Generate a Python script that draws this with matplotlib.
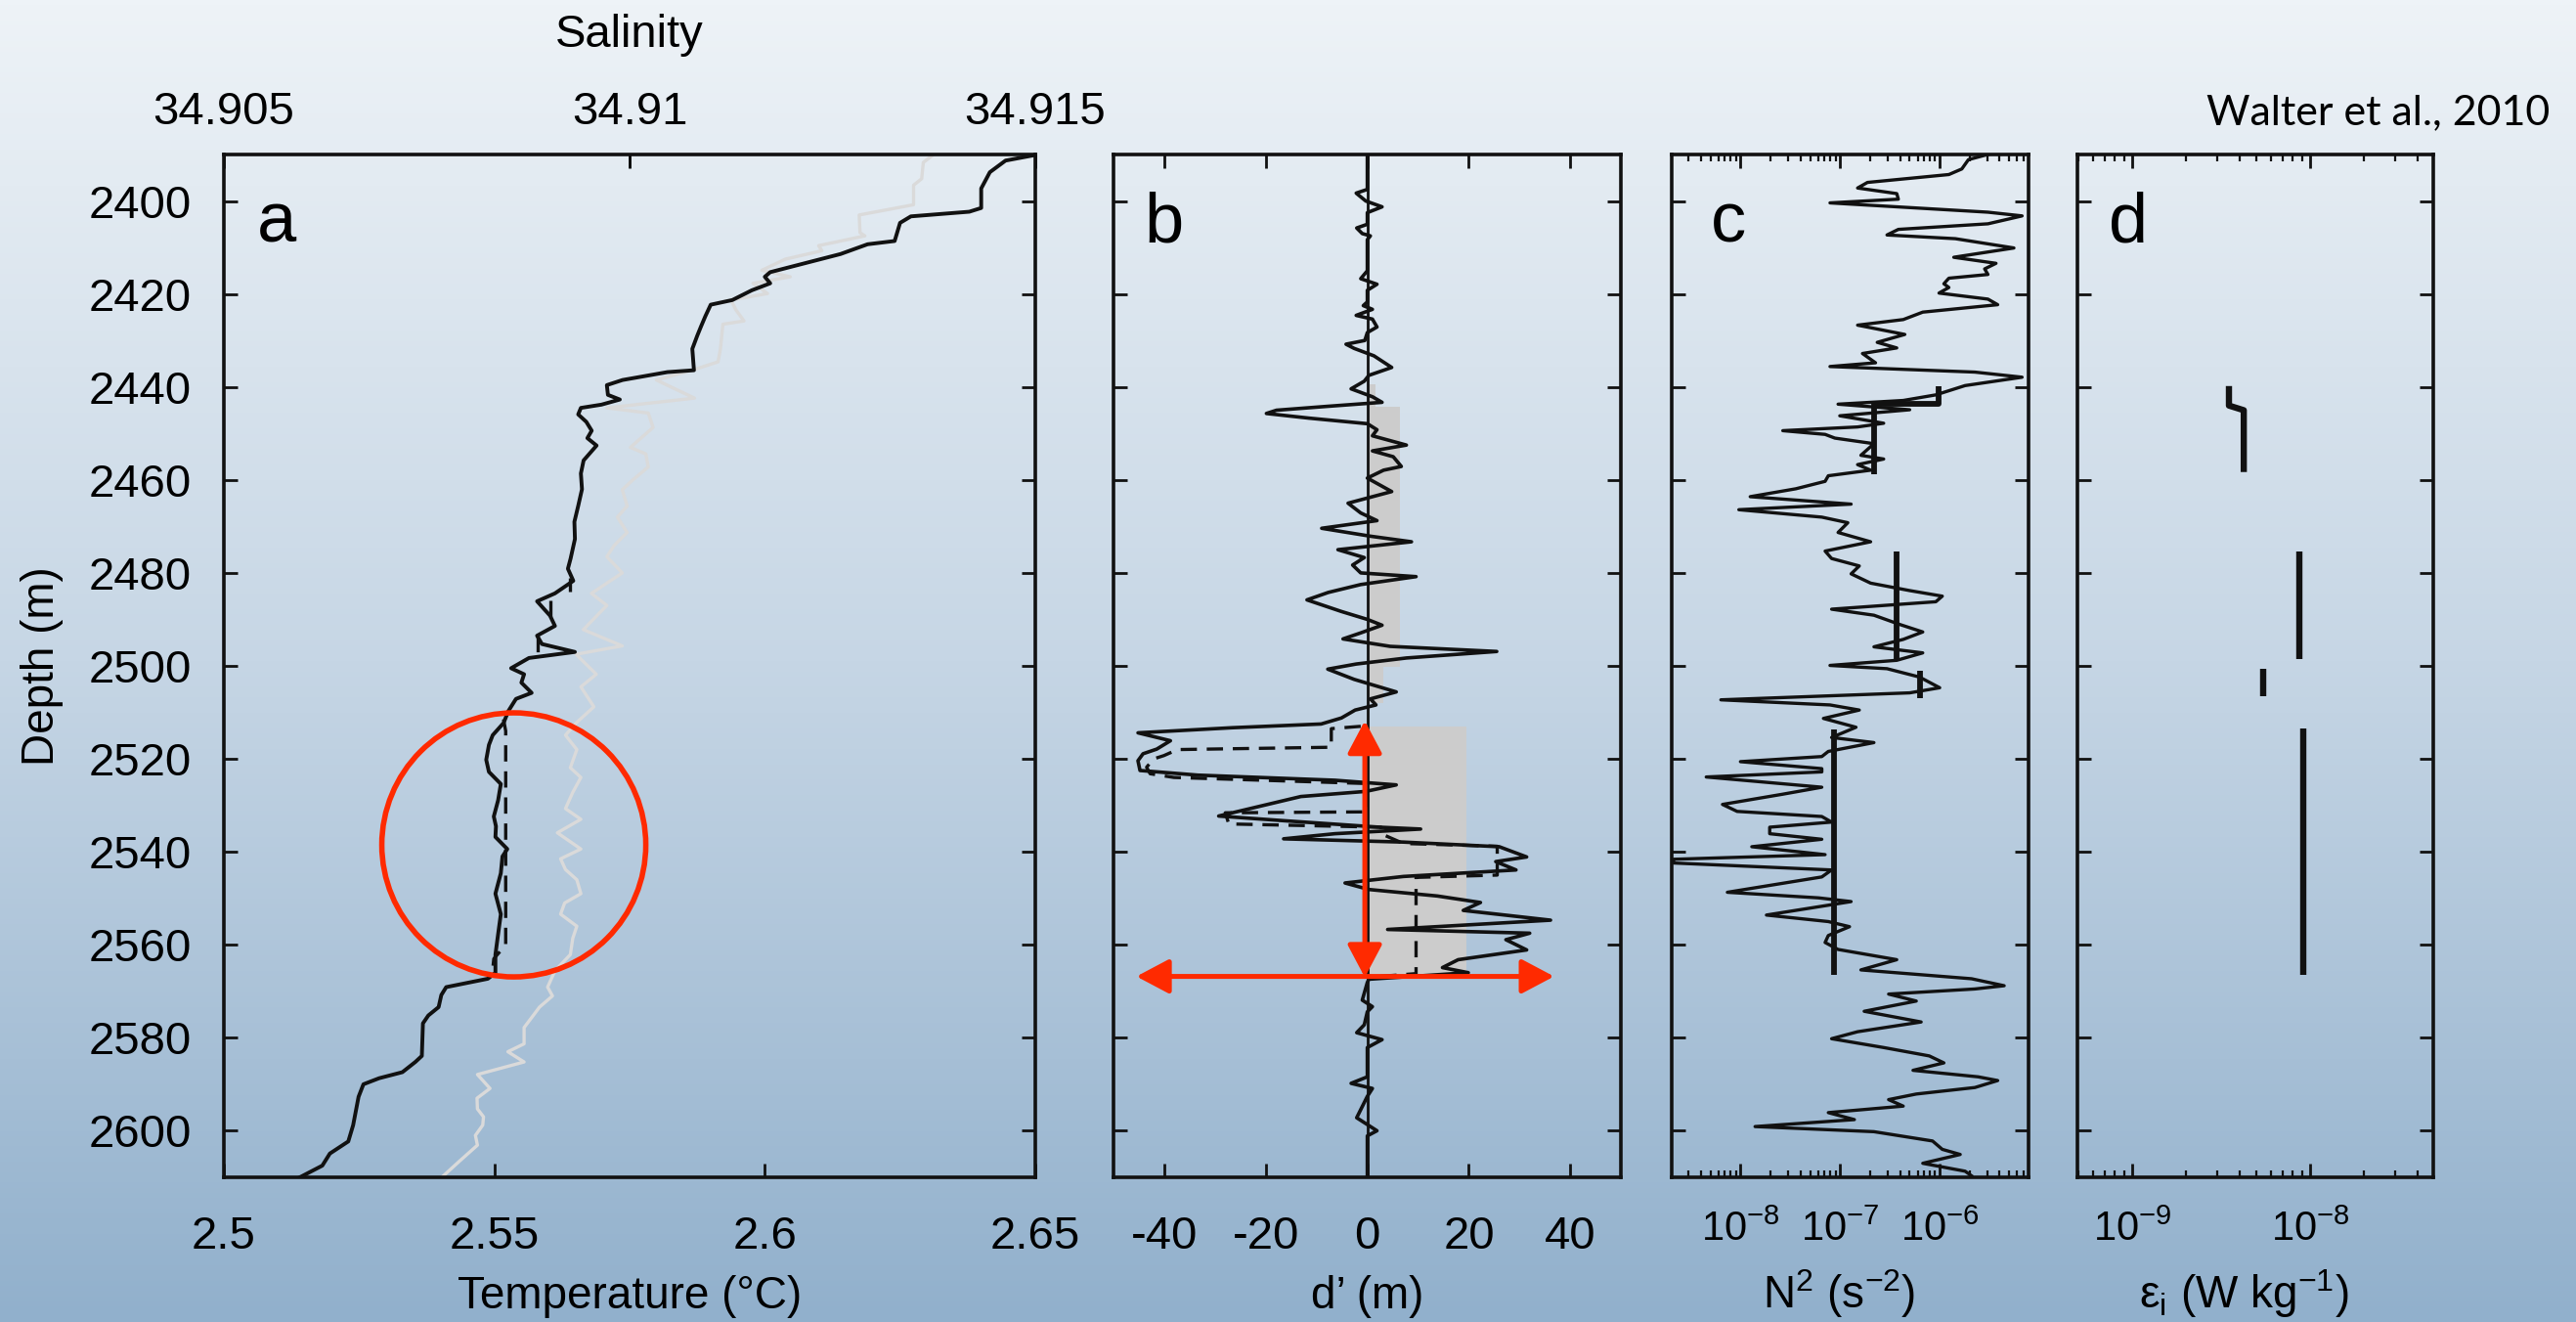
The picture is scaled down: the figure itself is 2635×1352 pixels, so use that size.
import numpy as np
import matplotlib
matplotlib.use("Agg")
import matplotlib.pyplot as plt
from matplotlib.colors import LinearSegmentedColormap
from matplotlib.patches import Ellipse
from matplotlib.ticker import NullFormatter, FixedLocator

plt.rcParams['font.family'] = ['Liberation Sans', 'DejaVu Sans']
plt.rcParams['mathtext.fontset'] = 'custom'
plt.rcParams['mathtext.rm'] = 'Liberation Sans'
plt.rcParams['mathtext.it'] = 'Liberation Sans:italic'
plt.rcParams['mathtext.default'] = 'regular'
plt.rcParams['axes.unicode_minus'] = False

# ---------------- data ----------------
depth_ticks = [2400, 2420, 2440, 2460, 2480, 2500, 2520, 2540, 2560, 2580, 2600]
temp_ticks = [2.5, 2.55, 2.6, 2.65]
sal_ticks = [34.905, 34.91, 34.915]
dprime_ticks = [-40, -20, 0, 20, 40]
n2_ticks = [1e-8, 1e-7, 1e-6]
n2_ticklabels = ['$10^{-8}$', '$10^{-7}$', '$10^{-6}$']
eps_ticks = [1e-9, 1e-8]
eps_ticklabels = ['$10^{-9}$', '$10^{-8}$']

# (depth m, temperature degC)
temp_profile = np.array([
    [2390.1, 2.650], [2391.3, 2.6445], [2393.8, 2.6416], [2397.3, 2.640], [2401.5, 2.640],
    [2402.3, 2.6378], [2403.3, 2.627], [2404.7, 2.625], [2408.6, 2.624], [2409.3, 2.619],
    [2411.4, 2.614], [2413.5, 2.607], [2415.3, 2.601], [2416.3, 2.600], [2417.7, 2.601],
    [2419.2, 2.5976], [2421.3, 2.594], [2422.3, 2.590], [2424.8, 2.589], [2427.0, 2.5882],
    [2429.0, 2.5875], [2431.8, 2.5866], [2436.4, 2.5869], [2436.8, 2.582], [2438.5, 2.5737],
    [2439.6, 2.5708], [2441.7, 2.571], [2442.7, 2.5732], [2443.8, 2.5698], [2444.5, 2.566],
    [2445.9, 2.5655], [2447.5, 2.567], [2449.4, 2.568], [2451.0, 2.5672], [2452.6, 2.5689],
    [2455.8, 2.5665], [2458.6, 2.566], [2462.0, 2.5662], [2465.6, 2.5655], [2469.0, 2.5648],
    [2472.7, 2.5649], [2476.9, 2.5641], [2479.1, 2.5636], [2481.7, 2.5646], [2484.4, 2.5612],
    [2486.1, 2.5579], [2489.2, 2.5603], [2491.4, 2.5612], [2493.5, 2.5579], [2495.3, 2.5588],
    [2497.0, 2.5649], [2498.3, 2.5564], [2500.5, 2.5531], [2501.8, 2.5555], [2503.6, 2.555],
    [2505.8, 2.5569], [2507.1, 2.554], [2509.7, 2.5526], [2512.3, 2.5517], [2514.9, 2.5497],
    [2517.0, 2.5490], [2520.2, 2.5485], [2522.8, 2.5490], [2525.4, 2.5512], [2528.9, 2.5507],
    [2532.4, 2.5499], [2534.5, 2.5503], [2536.8, 2.5502], [2539.4, 2.5524], [2541.0, 2.5515],
    [2544.6, 2.5512], [2549.0, 2.5502], [2553.4, 2.5512], [2557.7, 2.5507], [2562.1, 2.5502],
    [2566.0, 2.5502], [2567.3, 2.5488], [2569.1, 2.5411], [2570.8, 2.5402], [2573.4, 2.5397],
    [2575.2, 2.5378], [2576.9, 2.5368], [2583.9, 2.5366], [2585.2, 2.5354], [2587.4, 2.533],
    [2588.7, 2.5287], [2590.0, 2.5258], [2592.7, 2.5249], [2598.8, 2.5239], [2602.3, 2.523],
    [2604.9, 2.5196], [2607.5, 2.5182], [2610.1, 2.5139],
])

# sorted (dashed) temperature inside the overturns
temp_sorted = [
    np.array([[2481.0, 2.5640], [2484.0, 2.5640]]),
    np.array([[2486.0, 2.5604], [2490.0, 2.5604]]),
    np.array([[2493.5, 2.5580], [2498.0, 2.5580]]),
    np.array([[2511.5, 2.5517], [2514.0, 2.5521], [2560.0, 2.5521], [2563.0, 2.5499], [2566.5, 2.5496]]),
]

# (depth m, salinity)
sal_profile = np.array([
    [2390.1, 34.91374], [2391.7, 34.91362], [2395.2, 34.9136], [2396.6, 34.9135], [2400.8, 34.9135],
    [2403.0, 34.91283], [2406.8, 34.91284], [2407.5, 34.9129], [2409.6, 34.91233], [2410.7, 34.91237],
    [2412.5, 34.91192], [2414.9, 34.91163], [2416.3, 34.91198], [2417.7, 34.91152], [2419.9, 34.9117],
    [2421.3, 34.91125], [2423.4, 34.91131], [2425.8, 34.91141], [2426.5, 34.91115], [2431.8, 34.91112],
    [2434.6, 34.91109], [2436.4, 34.91077], [2438.5, 34.91033], [2442.4, 34.9108], [2444.5, 34.90972],
    [2445.6, 34.91023], [2448.7, 34.91029], [2453.0, 34.91001], [2454.4, 34.9102], [2457.2, 34.91023],
    [2460.0, 34.91004], [2462.1, 34.90991], [2465.6, 34.90997], [2468.0, 34.90985], [2471.3, 34.90997],
    [2474.1, 34.90981], [2476.5, 34.90972], [2480.0, 34.90991], [2484.4, 34.90953], [2487.0, 34.90972],
    [2492.2, 34.90943], [2495.7, 34.90991], [2497.5, 34.90934], [2501.8, 34.90959], [2504.5, 34.9094],
    [2508.8, 34.90956], [2512.3, 34.90934], [2514.9, 34.90921], [2518.0, 34.90935], [2521.9, 34.90927],
    [2524.0, 34.9094], [2527.2, 34.9093], [2530.7, 34.90921], [2533.0, 34.9094], [2535.9, 34.90911],
    [2539.4, 34.9094], [2541.5, 34.90915], [2543.8, 34.90921], [2546.0, 34.90935], [2549.0, 34.9094],
    [2551.0, 34.9092], [2553.4, 34.90915], [2556.0, 34.90935], [2558.6, 34.9093], [2562.1, 34.90927],
    [2565.6, 34.90908], [2569.1, 34.90899], [2571.0, 34.90905], [2573.4, 34.90889], [2575.5, 34.9088],
    [2577.8, 34.9087], [2581.3, 34.9087], [2583.0, 34.9085], [2585.2, 34.9087], [2587.9, 34.908125],
    [2590.9, 34.90828], [2593.0, 34.90812], [2595.3, 34.908125], [2597.0, 34.9082], [2598.8, 34.90819],
    [2601.0, 34.9081], [2603.1, 34.908125], [2606.6, 34.9079], [2610.1, 34.90768],
])

# (depth m, Thorpe displacement d' m)
thorpe = np.array([
    [2390.0, 0], [2397.5, 0], [2398.3, -2.2], [2400.0, -0.3], [2401.25, 2.9], [2402.5, 0],
    [2405.0, 0], [2405.8, -2.1], [2407.0, -1.0], [2407.5, 0.6], [2408.3, 0], [2415.0, 0],
    [2416.7, -1.3], [2417.9, 1.9], [2419.2, 0], [2421.7, 0], [2422.5, -0.8], [2423.3, 1.0],
    [2424.6, -2.2], [2425.4, 1.0], [2427.1, 1.9], [2428.3, 0], [2430.0, -0.5], [2430.8, -4.2],
    [2431.7, -2.6], [2433.3, 1.3], [2435.8, 4.8], [2437.5, 0.3], [2438.75, -0.6], [2440.4, -3.2],
    [2442.1, 1.0], [2443.3, 2.9], [2444.2, -8.3], [2445.0, -17.9], [2445.7, -19.9], [2446.7, -11.5],
    [2447.9, 0], [2449.2, 1.9], [2450.5, 1.0], [2452.5, 7.7], [2453.75, 1.0], [2455.0, 5.1],
    [2457.1, 6.7], [2457.9, 3.2], [2459.6, 0], [2462.5, 4.8], [2465.0, -3.8], [2467.1, -1.3],
    [2468.75, 1.9], [2470.4, -9.0], [2472.1, 0.6], [2473.3, 8.7], [2475.0, -5.8], [2476.7, -0.6],
    [2478.3, -2.9], [2480.0, -1.3], [2480.8, 9.6], [2482.5, -1.3], [2484.2, -7.7], [2485.8, -11.9],
    [2488.3, -5.1], [2490.0, 0], [2491.25, 2.9], [2492.9, -1.3], [2494.2, -4.8], [2495.8, 4.5],
    [2496.9, 25.5], [2498.3, 7.7], [2499.6, -2.2], [2500.7, -7.8], [2502.9, -2.6], [2504.6, 2.6],
    [2505.6, 5.7], [2507.1, 0.6], [2508.4, 1.7], [2509.5, -2.4], [2511.2, -5.1], [2512.5, -9.1],
    [2513.3, -26.6], [2514.4, -45.2], [2516.1, -38.8], [2517.9, -41.5], [2518.9, -44.2], [2520.4, -45.2],
    [2522.5, -44.8], [2523.5, -33.4], [2524.6, -6.4], [2525.6, 5.7], [2527.0, -0.3], [2528.1, -13.1],
    [2529.5, -18.5], [2532.3, -29.3], [2533.3, -16.5], [2534.7, 2.4], [2535.1, 10.5], [2536.1, -6.4],
    [2537.2, -16.5], [2537.9, 7.1], [2538.9, 26.0], [2541.1, 31.4], [2542.1, 25.3], [2543.9, 29.3],
    [2545.3, 7.1], [2546.7, -4.4], [2548.1, 0.3], [2549.5, 13.8], [2550.9, 22.3], [2552.6, 18.9],
    [2554.7, 36.1], [2556.7, 4.0], [2557.5, 32.0], [2558.9, 27.3], [2561.1, 31.4], [2563.2, 17.9],
    [2564.9, 14.8], [2566.0, 19.9], [2567.4, 0.3], [2568.1, 0], [2571.9, -1.0], [2573.3, 1.0],
    [2574.4, 0], [2577.2, -0.6], [2578.9, -2.1], [2580.4, 2.9], [2582.1, 0], [2588.4, 0],
    [2589.8, -3.2], [2590.9, 1.0], [2592.6, 0], [2597.2, -2.1], [2600.0, 1.9], [2601.1, 0],
    [2610.0, 0],
])

# dashed displacement inside the big overturn
thorpe_dashed = np.array([
    [2513.0, -1.3], [2513.5, -7.1], [2517.5, -7.1], [2518.0, -37.4], [2519.3, -40.1],
    [2520.0, -42.1], [2521.8, -43.5], [2523.2, -42.8], [2524.0, -38.1], [2525.3, -0.3],
    [2531.4, 0], [2531.6, -28.0], [2534.0, -27.3], [2534.7, 2.7], [2536.1, 2.7],
    [2538.2, 7.1], [2538.8, 25.6], [2541.4, 25.6], [2545.0, 25.6], [2545.5, 9.6],
    [2566.2, 9.6], [2567.0, 0],
])

# grey overturn patches: top, bottom, width of Thorpe scale
shade_top = [2439.5, 2444.2, 2500.3, 2513.0]
shade_bottom = [2444.2, 2500.3, 2508.0, 2566.3]
shade_width = [1.6, 6.5, 3.2, 19.5]

# (depth m, log10 N^2)
n2_profile = np.array([
    [2389.6, -5.451], [2391.1, -5.712], [2393.1, -5.778], [2394.3, -5.908], [2396.0, -6.725],
    [2397.2, -6.824], [2398.4, -6.431], [2399.6, -6.415], [2400.4, -7.101], [2402.4, -5.516],
    [2403.2, -5.173], [2404.9, -5.516], [2406.1, -6.415], [2407.3, -6.529], [2408.1, -5.843],
    [2410.1, -5.255], [2412.1, -5.859], [2413.4, -5.435], [2414.6, -5.549], [2415.8, -5.516],
    [2416.6, -5.908], [2417.8, -5.958], [2418.6, -5.908], [2419.8, -6.007], [2421.1, -5.516],
    [2422.3, -5.418], [2423.9, -6.170], [2425.5, -6.366], [2426.7, -6.824], [2428.7, -6.350],
    [2430.4, -6.627], [2431.6, -6.431], [2432.8, -6.775], [2434.8, -6.644], [2435.6, -7.101],
    [2436.8, -5.647], [2437.9, -5.173], [2439.7, -5.745], [2441.7, -6.039], [2442.9, -6.366],
    [2443.7, -7.020], [2444.9, -6.301], [2446.2, -7.003], [2447.8, -6.562], [2448.6, -6.824],
    [2449.4, -7.575], [2450.2, -7.150], [2451.0, -7.052], [2452.2, -6.660], [2454.7, -6.791],
    [2455.5, -6.562], [2456.7, -6.824], [2457.9, -6.693], [2459.1, -7.118], [2460.3, -7.150],
    [2461.9, -7.444], [2463.6, -7.902], [2464.8, -7.150], [2465.2, -6.889], [2466.4, -8.016],
    [2468.0, -7.183], [2469.2, -6.922], [2471.3, -7.020], [2473.3, -6.693], [2475.3, -7.150],
    [2476.9, -7.085], [2478.5, -6.807], [2480.2, -6.889], [2482.2, -6.693], [2483.8, -6.301],
    [2485.0, -5.974], [2486.2, -6.039], [2487.8, -7.085], [2489.1, -6.660], [2491.1, -6.399],
    [2492.7, -6.170], [2494.3, -6.366], [2495.9, -6.660], [2497.2, -6.170], [2498.8, -6.431],
    [2499.9, -7.101], [2500.6, -6.529], [2502.4, -6.203], [2504.7, -6.000], [2505.8, -6.301],
    [2507.3, -8.196], [2508.4, -7.101], [2509.5, -6.807], [2511.3, -7.167], [2513.2, -6.840],
    [2515.4, -7.085], [2516.5, -6.660], [2518.4, -7.118], [2519.5, -7.183], [2520.6, -8.000],
    [2522.1, -7.183], [2522.8, -7.183], [2523.9, -8.343], [2526.1, -7.183], [2527.6, -7.575],
    [2529.8, -8.180], [2531.3, -8.033], [2532.4, -7.183], [2533.6, -7.085], [2534.7, -7.706],
    [2536.1, -7.706], [2537.3, -7.183], [2538.9, -7.886], [2540.6, -7.150], [2541.6, -8.670],
    [2542.4, -8.670], [2543.9, -7.085], [2545.4, -7.183], [2548.7, -8.131], [2549.9, -7.216],
    [2550.7, -6.889], [2553.6, -7.739], [2555.0, -7.118], [2556.1, -6.905], [2558.0, -7.118],
    [2559.5, -7.150], [2561.0, -7.020], [2563.2, -6.431], [2565.4, -6.791], [2567.3, -5.680],
    [2568.8, -5.353], [2569.5, -5.647], [2570.6, -6.513], [2572.1, -6.235], [2574.3, -6.758],
    [2576.6, -6.186], [2578.7, -6.824], [2580.2, -7.085], [2582.1, -6.562], [2583.9, -6.105],
    [2585.4, -5.958], [2587.0, -6.268], [2588.4, -5.614], [2589.2, -5.418], [2590.7, -5.647],
    [2592.1, -6.235], [2593.3, -6.513], [2594.7, -6.366], [2596.1, -7.118], [2597.6, -6.856],
    [2599.1, -7.853], [2600.2, -6.660], [2602.2, -6.072], [2604.0, -5.974], [2605.1, -5.794],
    [2607.0, -6.170], [2608.7, -5.745], [2609.7, -5.680],
])

# overturn-averaged N^2 (thick steps): list of (N2 values, depths)
n2_bins = [
    ([9.7e-7, 9.7e-7, 2.19e-7, 2.19e-7], [2439.9, 2443.7, 2443.7, 2458.7]),
    ([3.71e-7, 3.71e-7], [2475.3, 2498.8]),
    ([6.41e-7, 6.41e-7], [2501.0, 2507.0]),
    ([8.73e-8, 8.73e-8], [2513.6, 2566.5]),
]

# dissipation rate epsilon_i per overturn
eps_bins = [
    ([3.5e-9, 3.5e-9, 4.24e-9, 4.24e-9], [2439.8, 2444.0, 2445.0, 2458.3]),
    ([8.73e-9, 8.73e-9], [2475.3, 2498.6]),
    ([5.46e-9, 5.46e-9], [2500.7, 2506.6]),
    ([9.12e-9, 9.12e-9], [2513.5, 2566.5]),
]

RED = '#ff2a00'
INK = '#111111'
TICK = 34
LOGTICK = 30

fig = plt.figure(figsize=(26.35, 13.52), dpi=100)

# background gradient
bg = fig.add_axes([0, 0, 1, 1], zorder=-10)
cmap = LinearSegmentedColormap.from_list('bg', ['#eef3f7', '#c6d6e5', '#91b0cc'])
bg.imshow(np.linspace(0, 1, 256)[:, None], aspect='auto', cmap=cmap,
          extent=[0, 1, 0, 1], origin='upper')
bg.axis('off')

bottom, height = 0.1095, 0.7736
ax_a = fig.add_axes([0.0869, bottom, 0.3150, height])
ax_b = fig.add_axes([0.4323, bottom, 0.1970, height])
ax_c = fig.add_axes([0.6490, bottom, 0.1385, height])
ax_d = fig.add_axes([0.8065, bottom, 0.1381, height])


def style(ax, xpad=28, xsize=TICK):
    ax.set_facecolor('none')
    ax.set_ylim(2610, 2390)
    ax.set_yticks(depth_ticks)
    for s in ax.spines.values():
        s.set_linewidth(2.6)
        s.set_color(INK)
    ax.tick_params(which='both', direction='in', width=2, labelsize=TICK,
                   top=True, right=True, left=True, bottom=True, color=INK)
    ax.tick_params(which='major', length=10)
    ax.tick_params(which='minor', length=5, width=1.6)
    ax.tick_params(axis='x', pad=xpad, labelsize=xsize)
    ax.tick_params(axis='y', pad=24)


def log_ticks(ax, ticks, labels, lo, hi):
    ax.set_xscale('log')
    ax.set_xlim(lo, hi)
    ax.set_xticks(ticks, labels)
    minors = [m * 10.0 ** e for e in range(-11, -4) for m in range(2, 10)]
    ax.xaxis.set_minor_locator(FixedLocator([v for v in minors if lo <= v <= hi]))
    ax.xaxis.set_minor_formatter(NullFormatter())


# ---- panel a ----
style(ax_a)
ax_s = ax_a.twiny()
ax_s.set_xlim(34.905, 34.915)
ax_s.set_xticks(sal_ticks, ['34.905', '34.91', '34.915'])
ax_s.tick_params(axis='x', direction='in', length=10, width=2, pad=15, labelsize=TICK)
ax_s.plot(sal_profile[:, 1], sal_profile[:, 0], color='#dadada', lw=2.4)
ax_a.set_zorder(ax_s.get_zorder() + 1)

ax_a.plot(temp_profile[:, 1], temp_profile[:, 0], color=INK, lw=2.8)
for seg in temp_sorted:
    ax_a.plot(seg[:, 1], seg[:, 0], color=INK, lw=2.4, ls=(0, (5, 3)))
ax_a.set_xlim(2.5, 2.65)
ax_a.set_xticks(temp_ticks, ['2.5', '2.55', '2.6', '2.65'])
ax_a.tick_params(axis='x', top=False)
ax_a.set_ylim(2610, 2390)
ax_a.set_ylabel('Depth (m)', fontsize=33, labelpad=18)
ax_a.add_patch(Ellipse((2.5536, 2538.5), 0.0488, 56.8, fill=False,
                       ec=RED, lw=4, zorder=6))
ax_a.text(0.041, 0.914, 'a', transform=ax_a.transAxes, fontsize=52, va='baseline')

# ---- panel b ----
style(ax_b)
for t, b, w in zip(shade_top, shade_bottom, shade_width):
    ax_b.fill_betweenx([t, b], 0, w, color='#cccccc', lw=0, zorder=1)
ax_b.axvline(0, color=INK, lw=2.0, zorder=2)
ax_b.plot(thorpe[:, 1], thorpe[:, 0], color=INK, lw=2.6, zorder=3)
ax_b.plot(thorpe_dashed[:, 1], thorpe_dashed[:, 0], color=INK, lw=2.4,
          ls=(0, (5, 3)), zorder=3)
arrow = dict(arrowstyle='<|-|>,head_length=0.85,head_width=0.45', color=RED, lw=3.6,
             mutation_scale=24, shrinkA=0, shrinkB=0)
ax_b.annotate('', xy=(-0.5, 2511.8), xytext=(-0.5, 2567.0), arrowprops=arrow, zorder=5)
ax_b.annotate('', xy=(-45.5, 2566.8), xytext=(36.8, 2566.8), arrowprops=arrow, zorder=5)
ax_b.set_xlim(-50, 50)
ax_b.set_xticks(dprime_ticks)
ax_b.tick_params(axis='y', labelleft=False)
ax_b.text(0.061, 0.914, 'b', transform=ax_b.transAxes, fontsize=52, va='baseline')

# ---- panel c ----
style(ax_c, xpad=24, xsize=LOGTICK)
log_ticks(ax_c, n2_ticks, n2_ticklabels, 2.05e-9, 7.8e-6)
ax_c.plot(np.power(10.0, n2_profile[:, 1]), n2_profile[:, 0], color=INK, lw=2.4)
for xs, ys in n2_bins:
    ax_c.plot(xs, ys, color=INK, lw=4.2, solid_capstyle='butt')
ax_c.set_ylim(2610, 2390)
ax_c.tick_params(axis='y', labelleft=False)
ax_c.text(0.11, 0.914, 'c', transform=ax_c.transAxes, fontsize=52, va='baseline')

# ---- panel d ----
style(ax_d, xpad=24, xsize=LOGTICK)
log_ticks(ax_d, eps_ticks, eps_ticklabels, 4.93e-10, 4.93e-8)
for xs, ys in eps_bins:
    ax_d.plot(xs, ys, color=INK, lw=4.6, solid_capstyle='butt')
ax_d.set_ylim(2610, 2390)
ax_d.tick_params(axis='y', labelleft=False)
ax_d.text(0.087, 0.914, 'd', transform=ax_d.transAxes, fontsize=52, va='baseline')

# ---- labels ----
ylab = 0.0104
fig.text(0.2444, ylab, 'Temperature (°C)', ha='center', va='baseline', fontsize=33)
fig.text(0.5308, ylab, 'd\u2019 (m)', ha='center', va='baseline', fontsize=33)
fig.text(0.714, ylab, 'N$^2$ (s$^{-2}$)', ha='center', va='baseline', fontsize=33)
fig.text(0.871, ylab, '\u03b5$_\\mathrm{i}$ (W kg$^{-1}$)', ha='center', va='baseline', fontsize=33)
fig.text(0.2444, 0.9645, 'Salinity', ha='center', va='baseline', fontsize=34)
fig.text(0.9897, 0.906, 'Walter et al., 2010', ha='right', va='baseline', fontsize=31,
         family=['Lato', 'DejaVu Sans'])

fig.savefig('out.png', dpi=100)
